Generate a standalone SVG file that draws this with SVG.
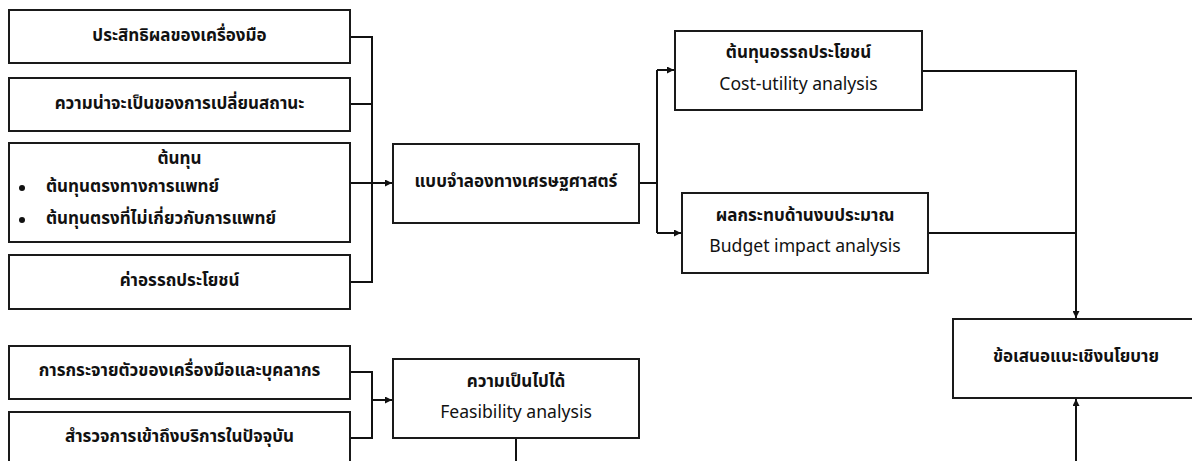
<svg xmlns="http://www.w3.org/2000/svg" width="1192" height="461" viewBox="0 0 1192 461">
<style>
.box{fill:#fff;stroke:#1a1a1a;stroke-width:2}
.th{font-family:"Noto Sans Thai","Noto Sans","Liberation Sans",sans-serif;font-size:17px;font-weight:bold;fill:#111;text-anchor:middle;dominant-baseline:central}
.en{font-family:"Noto Sans Thai","Noto Sans","Liberation Sans",sans-serif;font-size:17.6px;fill:#111;text-anchor:middle;dominant-baseline:central}
.l{fill:none;stroke:#111;stroke-width:2}
</style>
<defs>
<marker id="ah" viewBox="0 0 10 10" refX="10" refY="5" markerWidth="9" markerHeight="7" markerUnits="userSpaceOnUse" orient="auto">
<path d="M0,0 L10,5 L0,10 Z" fill="#111"/>
</marker>
</defs>
<rect width="1192" height="461" fill="#fff"/>
<g id="connectors">
<path class="l" d="M350,37 H372 V282 H350 M350,104 H372"/>
<path class="l" d="M350,183 H392" marker-end="url(#ah)"/>
<path class="l" d="M639,183 H657 M657,70 V233"/>
<path class="l" d="M657,70 H674" marker-end="url(#ah)"/>
<path class="l" d="M657,233 H681" marker-end="url(#ah)"/>
<path class="l" d="M922,71 H1076 V318" marker-end="url(#ah)"/>
<path class="l" d="M928,233 H1076"/>
<path class="l" d="M350,372 H372 V438 H350"/>
<path class="l" d="M372,400 H392" marker-end="url(#ah)"/>
<path class="l" d="M516,438 V461"/>
<path class="l" d="M1076,461 V399" marker-end="url(#ah)"/>
<path d="M516,461.6 H1076" fill="none" stroke="#111" stroke-width="1.4" stroke-opacity="0.7"/>
</g>
<g id="n1"><rect class="box" x="9" y="10" width="341" height="53"/><text class="th" x="179.5" y="36">ประสิทธิผลของเครื่องมือ</text></g>
<g id="n2"><rect class="box" x="9" y="78" width="341" height="53"/><text class="th" x="179.5" y="104">ความน่าจะเป็นของการเปลี่ยนสถานะ</text></g>
<g id="n3"><rect class="box" x="9" y="143" width="341" height="99"/>
<text class="th" x="179.5" y="159">ต้นทุน</text>
<circle cx="22" cy="188" r="3" fill="#111"/>
<text class="th" x="46" y="187" style="text-anchor:start">ต้นทุนตรงทางการแพทย์</text>
<circle cx="22" cy="220" r="3" fill="#111"/>
<text class="th" x="46" y="219" style="text-anchor:start">ต้นทุนตรงที่ไม่เกี่ยวกับการแพทย์</text>
</g>
<g id="n4"><rect class="box" x="9" y="255" width="341" height="54"/><text class="th" x="179.5" y="281">ค่าอรรถประโยชน์</text></g>
<g id="n5"><rect class="box" x="393" y="144" width="246" height="79"/><text class="th" x="516" y="182">แบบจำลองทางเศรษฐศาสตร์</text></g>
<g id="n6"><rect class="box" x="675" y="31" width="247" height="79"/><text class="th" x="798.5" y="53">ต้นทุนอรรถประโยชน์</text><text class="en" x="798.5" y="84">Cost-utility analysis</text></g>
<g id="n7"><rect class="box" x="682" y="193" width="246" height="80"/><text class="th" x="805" y="216">ผลกระทบด้านงบประมาณ</text><text class="en" x="805" y="246">Budget impact analysis</text></g>
<g id="n8"><rect class="box" x="953" y="319" width="250" height="79"/><text class="th" x="1076" y="357">ข้อเสนอแนะเชิงนโยบาย</text></g>
<g id="n9"><rect class="box" x="9" y="346" width="341" height="53"/><text class="th" x="179.5" y="371">การกระจายตัวของเครื่องมือและบุคลากร</text></g>
<g id="n10"><rect class="box" x="9" y="412" width="341" height="60"/><text class="th" x="179.5" y="437">สำรวจการเข้าถึงบริการในปัจจุบัน</text></g>
<g id="n11"><rect class="box" x="393" y="359" width="246" height="79"/><text class="th" x="516" y="382">ความเป็นไปได้</text><text class="en" x="516" y="412">Feasibility analysis</text></g>
</svg>
